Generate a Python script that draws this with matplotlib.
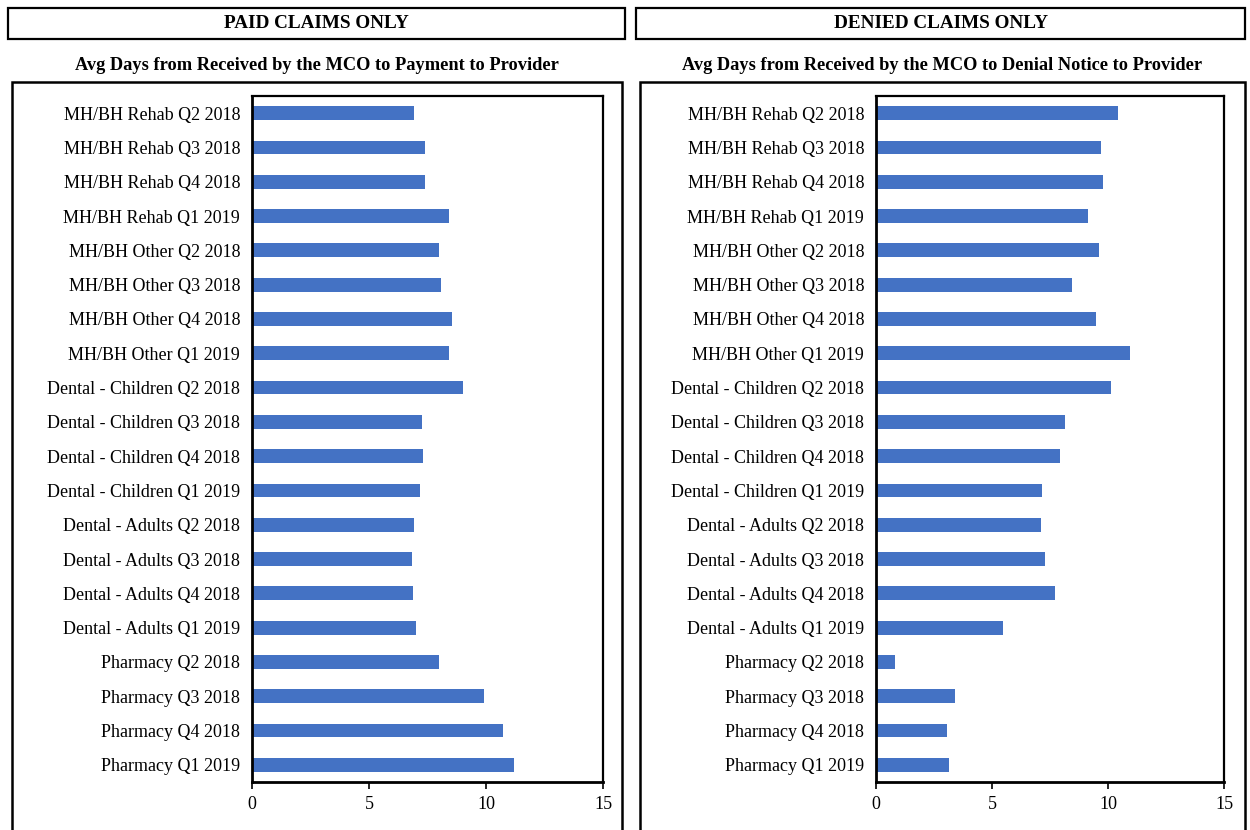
import matplotlib
matplotlib.use("Agg")
import matplotlib.pyplot as plt
from matplotlib.patches import Rectangle

plt.rcParams['font.family'] = ['Liberation Serif', 'DejaVu Serif']

categories = [
    "MH/BH Rehab Q2 2018", "MH/BH Rehab Q3 2018", "MH/BH Rehab Q4 2018", "MH/BH Rehab Q1 2019",
    "MH/BH Other Q2 2018", "MH/BH Other Q3 2018", "MH/BH Other Q4 2018", "MH/BH Other Q1 2019",
    "Dental - Children Q2 2018", "Dental - Children Q3 2018", "Dental - Children Q4 2018", "Dental - Children Q1 2019",
    "Dental - Adults Q2 2018", "Dental - Adults Q3 2018", "Dental - Adults Q4 2018", "Dental - Adults Q1 2019",
    "Pharmacy Q2 2018", "Pharmacy Q3 2018", "Pharmacy Q4 2018", "Pharmacy Q1 2019",
]
paid_days = [6.92, 7.38, 7.38, 8.40, 7.99, 8.09, 8.56, 8.40, 9.01, 7.28,
             7.32, 7.18, 6.92, 6.82, 6.87, 7.02, 7.99, 9.90, 10.71, 11.18]
denied_days = [10.41, 9.68, 9.79, 9.12, 9.62, 8.45, 9.48, 10.93, 10.15, 8.13,
               7.93, 7.17, 7.11, 7.27, 7.73, 5.46, 0.82, 3.40, 3.04, 3.14]
x_ticks = [0, 5, 10, 15]

headers = ["PAID CLAIMS ONLY", "DENIED CLAIMS ONLY"]
subtitles = ["Avg Days from Received by the MCO to Payment to Provider",
             "Avg Days from Received by the MCO to Denial Notice to Provider"]

W, H = 1250, 830
fig = plt.figure(figsize=(12.5, 8.3), dpi=100)

def fx(px):
    return px / W

def fy(py):
    return 1 - py / H

bar_color = "#4472C4"

panels = [
    dict(hdr=(8, 625), frame=(12, 622), ax=(252, 603), data=paid_days),
    dict(hdr=(636, 1245), frame=(640, 1245), ax=(876, 1224), data=denied_days),
]

for i, p in enumerate(panels):
    # header box
    hx0, hx1 = p['hdr']
    fig.patches.append(Rectangle((fx(hx0), fy(39)), fx(hx1 - hx0), (39 - 8) / H,
                                 transform=fig.transFigure, fill=False,
                                 edgecolor='black', linewidth=1.6))
    fig.text(fx((hx0 + hx1) / 2), fy(24), headers[i], ha='center', va='center',
             fontsize=13.8, fontweight='bold')
    # subtitle
    fx0, fx1 = p['frame']
    fig.text(fx((fx0 + fx1) / 2), fy(65), subtitles[i], ha='center', va='center',
             fontsize=13.2, fontweight='bold')
    # outer frame (extends below figure)
    fig.patches.append(Rectangle((fx(fx0), fy(840)), fx(fx1 - fx0), (840 - 82) / H,
                                 transform=fig.transFigure, fill=False,
                                 edgecolor='black', linewidth=1.8, clip_on=False))
    # axes
    ax0, ax1 = p['ax']
    ax = fig.add_axes([fx(ax0), fy(782), fx(ax1 - ax0), (782 - 96) / H])
    y = list(range(len(categories)))
    ax.barh(y, p['data'], height=0.4, color=bar_color)
    ax.set_ylim(len(categories) - 0.5, -0.5)
    ax.set_xlim(0, 15)
    ax.set_yticks(y)
    ax.set_yticklabels(categories, fontsize=13)
    ax.set_xticks(x_ticks)
    ax.set_xticklabels([str(t) for t in x_ticks], fontsize=13)
    ax.tick_params(axis='y', length=0, pad=8.5)
    ax.tick_params(axis='x', length=5, width=1.2, direction='out', pad=5)
    for side in ['left', 'bottom']:
        ax.spines[side].set_linewidth(2.0)
    for side in ['top', 'right']:
        ax.spines[side].set_linewidth(1.6)

fig.savefig("out.png", dpi=100)
